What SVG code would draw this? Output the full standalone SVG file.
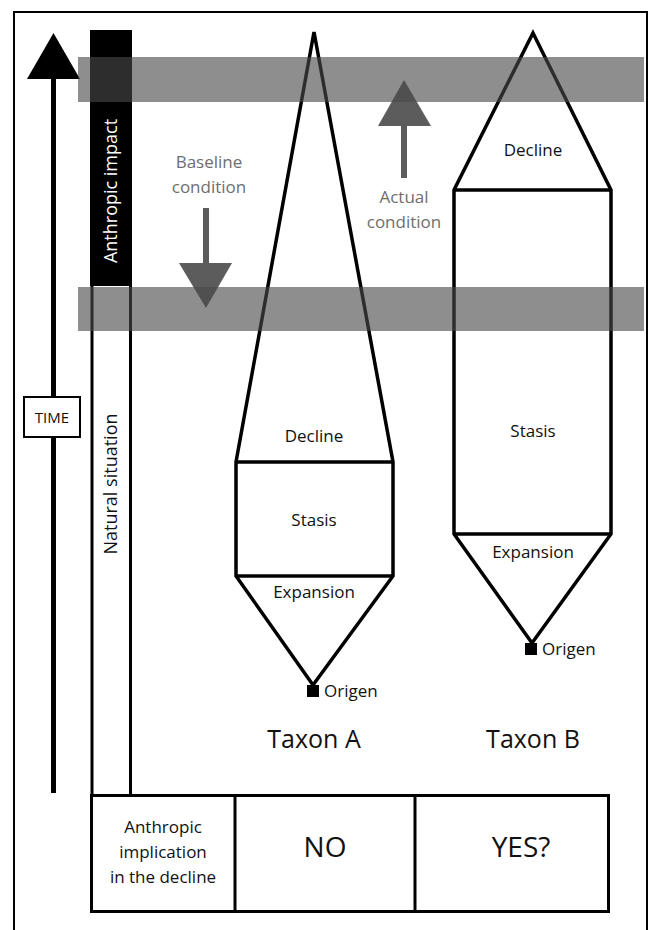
<svg xmlns="http://www.w3.org/2000/svg" width="650" height="930" viewBox="0 0 650 930">
<style>
text{font-family:"Open Sans","Noto Sans",sans-serif;fill:#111}
.shape{fill:none;stroke:#000;stroke-width:3.5;stroke-linejoin:miter}
.lbl{font-size:17px;text-anchor:middle}
.gray{fill:#6e6e6e;font-size:17px;text-anchor:middle}
.band{fill:#494949;fill-opacity:0.62}
.garrow{fill:#5c5c5c}
.cell{fill:none;stroke:#000;stroke-width:3}
</style>
<rect width="650" height="930" fill="#fff"/>
<path d="M14,931 V12 H647 V931" fill="none" stroke="#000" stroke-width="2"/>

<g id="time-arrow">
<rect x="51" y="76" width="5" height="717" fill="#000"/>
<polygon points="27,79 80,79 53.5,33" fill="#000"/>
</g>
<g id="time-box">
<rect x="24" y="397" width="56" height="40" fill="#fff" stroke="#000" stroke-width="2"/>
<text x="52" y="423" font-size="15" text-anchor="middle">TIME</text>
</g>

<g id="anthropic-impact">
<rect x="90" y="30" width="42" height="256" fill="#000"/>
<text transform="translate(117,191) rotate(-90)" font-size="18" text-anchor="middle" style="fill:#fff">Anthropic impact</text>
</g>
<g id="natural-situation">
<line x1="92" y1="285" x2="92" y2="796" stroke="#000" stroke-width="3"/>
<line x1="130.5" y1="285" x2="130.5" y2="796" stroke="#000" stroke-width="3"/>
<text transform="translate(117,484) rotate(-90)" font-size="18" text-anchor="middle">Natural situation</text>
</g>

<g id="taxon-a">
<polygon class="shape" points="314,32 393,462 393,576 313,685 236,576 236,462"/>
<line class="shape" x1="236" y1="462" x2="393" y2="462"/>
<line class="shape" x1="236" y1="576" x2="393" y2="576"/>
<rect x="307" y="685" width="12" height="12" fill="#000"/>
<text class="lbl" x="314" y="442">Decline</text>
<text class="lbl" x="314" y="526">Stasis</text>
<text class="lbl" x="314" y="598">Expansion</text>
<text x="324" y="697" font-size="17">Origen</text>
<text x="314" y="748" font-size="25" text-anchor="middle">Taxon A</text>
</g>

<g id="taxon-b">
<polygon class="shape" points="533,33 611,190 611,534 532,643 454,534 454,190"/>
<line class="shape" x1="454" y1="190" x2="611" y2="190"/>
<line class="shape" x1="454" y1="534" x2="611" y2="534"/>
<rect x="525" y="643" width="12" height="12" fill="#000"/>
<text class="lbl" x="533" y="156">Decline</text>
<text class="lbl" x="533" y="437">Stasis</text>
<text class="lbl" x="533" y="558">Expansion</text>
<text x="542" y="655" font-size="17">Origen</text>
<text x="533" y="748" font-size="25" text-anchor="middle">Taxon B</text>
</g>

<g id="baseline-condition">
<rect x="203" y="208" width="6" height="57" class="garrow"/>
<polygon class="garrow" points="179,263 232,263 206,308"/>
<text class="gray" x="209" y="168">Baseline</text>
<text class="gray" x="209" y="193">condition</text>
</g>
<g id="actual-condition">
<rect x="401" y="124" width="6" height="54" class="garrow"/>
<polygon class="garrow" points="378,126 431,126 404,80"/>
<text class="gray" x="404" y="203">Actual</text>
<text class="gray" x="404" y="228">condition</text>
</g>

<g id="bands">
<rect class="band" x="78" y="57" width="566" height="45"/>
<rect class="band" x="78" y="287" width="566" height="44"/>
</g>

<g id="table">
<rect class="cell" x="91.5" y="795.5" width="517" height="116"/>
<line x1="235" y1="795" x2="235" y2="912" stroke="#000" stroke-width="3"/>
<line x1="415" y1="795" x2="415" y2="912" stroke="#000" stroke-width="3"/>
<text x="163" y="833" font-size="17" text-anchor="middle">Anthropic</text>
<text x="163" y="858" font-size="17" text-anchor="middle">implication</text>
<text x="163" y="883" font-size="17" text-anchor="middle">in the decline</text>
<text x="325" y="857" font-size="28" text-anchor="middle">NO</text>
<text x="521" y="857" font-size="28" text-anchor="middle">YES?</text>
</g>
</svg>
